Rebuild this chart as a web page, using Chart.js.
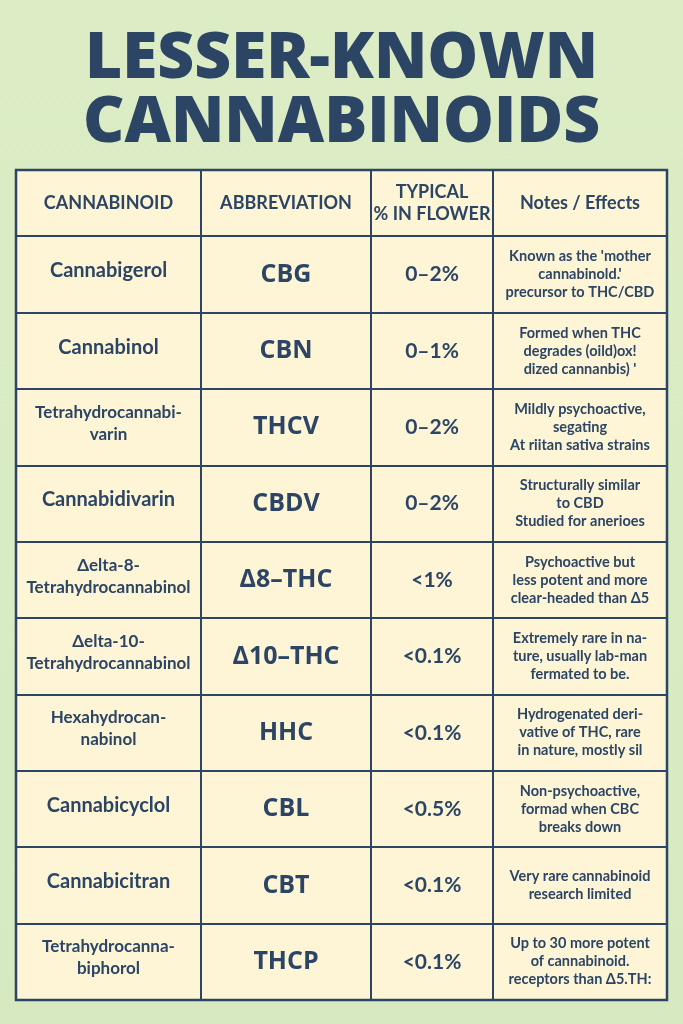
<!DOCTYPE html>
<html lang="en">
<head>
<meta charset="UTF-8">
<title>Lesser-Known Cannabinoids</title>
<script src="https://cdn.jsdelivr.net/npm/chart.js"></script>
<style>
  html, body { margin: 0; padding: 0; }
  body { width: 683px; height: 1024px; background: linear-gradient(#dcedc6, #d6e9c0); overflow: hidden; }
  #wrap { position: relative; width: 683px; height: 1024px; }
</style>
</head>
<body>
<div id="wrap"><canvas id="tableChart"></canvas></div>
<script>
const titleLines = ['LESSER-KNOWN', 'CANNABINOIDS'];
const headers = ['CANNABINOID', 'ABBREVIATION', 'TYPICAL\n% IN FLOWER', 'Notes / Effects'];
const names = ['Cannabigerol', 'Cannabinol', 'Tetrahydrocannabi-\nvarin', 'Cannabidivarin',
  'Δelta-8-\nTetrahydrocannabinol', 'Δelta-10-\nTetrahydrocannabinol', 'Hexahydrocan-\nnabinol',
  'Cannabicyclol', 'Cannabicitran', 'Tetrahydrocanna-\nbiphorol'];
const abbrevs = ['CBG', 'CBN', 'THCV', 'CBDV', 'Δ8–THC', 'Δ10–THC', 'HHC', 'CBL', 'CBT', 'THCP'];
const percents = ['0–2%', '0–1%', '0–2%', '0–2%', '<1%', '<0.1%', '<0.1%', '<0.5%', '<0.1%', '<0.1%'];
const notes = [
  "Known as the 'mother\ncannabinold.'\nprecursor to THC/CBD",
  "Formed when THC\ndegrades (oild)ox!\ndized cannanbis) '",
  "Mildly psychoactive,\nsegating\nAt riitan sativa strains",
  "Structurally similar\nto CBD\nStudied for anerioes",
  "Psychoactive but\nless potent and more\nclear-headed than Δ5",
  "Extremely rare in na-\nture, usually lab-man\nfermated to be.",
  "Hydrogenated deri-\nvative of THC, rare\nin nature, mostly sil",
  "Non-psychoactive,\nformad when CBC\nbreaks down",
  "Very rare cannabinoid\nresearch limited",
  "Up to 30 more potent\nof cannabinoid.\nreceptors than Δ5.TH:"
];

const navy = '#2c4565';
const colWidths = [185, 170, 122, 174];
const headerHeight = 0.87;
const colEdges = colWidths.reduce((a, w) => { a.push(a[a.length - 1] + w); return a; }, [0]);
const colCenters = colWidths.map((w, i) => colEdges[i] + w / 2);
const rowEdges = [0, headerHeight].concat(names.map((_, i) => headerHeight + i + 1));

const cells = [];
headers.forEach((t, c) => cells.push({ x: colCenters[c], y: headerHeight / 2, text: t, kind: 'head' }));
names.forEach((n, r) => {
  const y = headerHeight + r + 0.5;
  cells.push({ x: colCenters[0], y: y - 0.05, text: n, kind: n.indexOf('\n') >= 0 ? 'name2' : 'name' });
  cells.push({ x: colCenters[1], y: y, text: abbrevs[r], kind: 'abbr' });
  cells.push({ x: colCenters[2], y: y, text: percents[r], kind: 'pct' });
  cells.push({ x: colCenters[3], y: y, text: notes[r], kind: 'note' });
});

const fonts = {
  head: { f: 'bold 18px Lato', lh: 22 },
  name: { f: 'bold 20px Lato', lh: 22 },
  name2: { f: 'bold 17px Lato', lh: 22 },
  abbr: { f: 'bold 25px "Open Sans"', lh: 28 },
  pct: { f: 'bold 21px Lato', lh: 24 },
  note: { f: 'bold 14.5px Lato', lh: 18 }
};

const tablePlugin = {
  id: 'tablePlugin',
  beforeDraw(chart) {
    const { ctx, chartArea: a } = chart;
    ctx.save();
    ctx.fillStyle = '#fdf5d6';
    ctx.fillRect(a.left, a.top, a.right - a.left, a.bottom - a.top);
    ctx.fillStyle = navy;
    ctx.textAlign = 'center';
    ctx.textBaseline = 'middle';
    ctx.font = '800 64px "Open Sans"';
    ctx.fillText(titleLines[0], chart.width / 2, 60);
    ctx.fillText(titleLines[1], chart.width / 2, 124);
    ctx.restore();
  },
  afterDatasetsDraw(chart) {
    const { ctx } = chart;
    const meta = chart.getDatasetMeta(0);
    ctx.save();
    ctx.fillStyle = navy;
    ctx.textAlign = 'center';
    ctx.textBaseline = 'middle';
    meta.data.forEach((pt, i) => {
      const c = cells[i];
      const st = fonts[c.kind];
      ctx.font = st.f;
      const lines = c.text.split('\n');
      const y0 = pt.y - (lines.length - 1) * st.lh / 2;
      lines.forEach((l, k) => ctx.fillText(l, pt.x, y0 + k * st.lh));
    });
    ctx.strokeStyle = navy;
    ctx.lineWidth = 2.5;
    const a = chart.chartArea;
    ctx.strokeRect(a.left, a.top, a.right - a.left, a.bottom - a.top);
    ctx.restore();
  }
};

new Chart(document.getElementById('tableChart'), {
  type: 'scatter',
  data: { datasets: [{ data: cells.map(c => ({ x: c.x, y: c.y })), pointRadius: 0 }] },
  options: {
    responsive: true,
    maintainAspectRatio: false,
    animation: false,
    layout: { padding: { left: 16, right: 16, top: 170, bottom: 24 } },
    plugins: { legend: { display: false }, tooltip: { enabled: false } },
    scales: {
      x: {
        type: 'linear', min: 0, max: colEdges[colEdges.length - 1],
        afterBuildTicks: s => { s.ticks = colEdges.map(v => ({ value: v })); },
        ticks: { display: false },
        grid: { color: navy, lineWidth: 2, drawTicks: false },
        border: { display: false }
      },
      y: {
        type: 'linear', reverse: true, min: 0, max: rowEdges[rowEdges.length - 1],
        afterBuildTicks: s => { s.ticks = rowEdges.map(v => ({ value: v })); },
        ticks: { display: false },
        grid: { color: navy, lineWidth: 2, drawTicks: false },
        border: { display: false }
      }
    }
  },
  plugins: [tablePlugin]
});
</script>
</body>
</html>
